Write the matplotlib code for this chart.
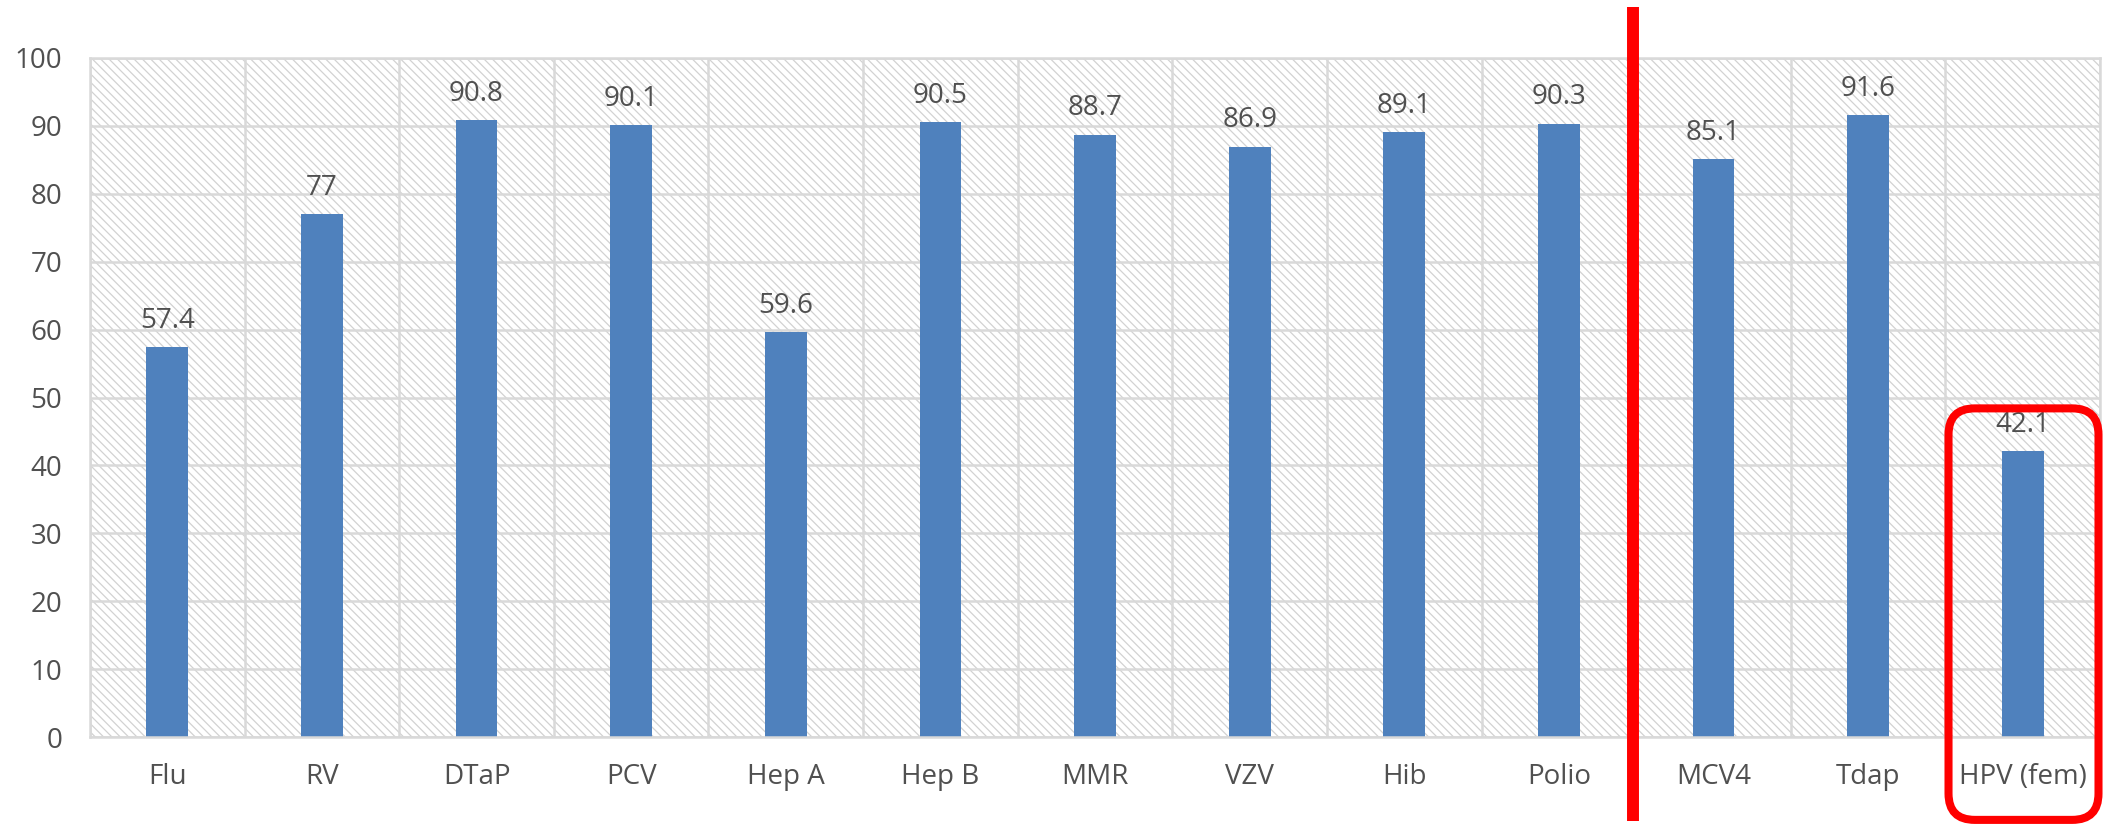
import matplotlib
matplotlib.use('Agg')
import matplotlib.pyplot as plt
from matplotlib.patches import FancyBboxPatch

vaccines = ['Flu', 'RV', 'DTaP', 'PCV', 'Hep A', 'Hep B', 'MMR', 'VZV',
            'Hib', 'Polio', 'MCV4', 'Tdap', 'HPV (fem)']
coverage = [57.4, 77, 90.8, 90.1, 59.6, 90.5, 88.7, 86.9, 89.1, 90.3, 85.1, 91.6, 42.1]
y_ticks = list(range(0, 101, 10))

text_color = '#505050'
grid_color = '#d9d9d9'
bar_color = '#4f81bd'

plt.rcParams['font.family'] = ['Open Sans', 'DejaVu Sans']
plt.rcParams['hatch.color'] = '#d2d2d2'
plt.rcParams['hatch.linewidth'] = 0.9

fig = plt.figure(figsize=(21.07, 8.26), dpi=100)
ax = fig.add_axes([0.0427, 0.1077, 0.954, 0.8221])

n = len(vaccines)
x = list(range(n))
ax.set_xlim(-0.5, n - 0.5)
ax.set_ylim(0, 100)

# hatched background of the plot area
ax.patch.set_facecolor('white')
ax.fill_between([-0.5, n - 0.5], 0, 100, facecolor='white',
                edgecolor='#d2d2d2', hatch='\\' * 4, linewidth=0, zorder=0)

# grid: horizontal at ticks, vertical at category boundaries
for yv in y_ticks:
    ax.axhline(yv, color=grid_color, lw=1.8, zorder=1)
for i in range(n + 1):
    ax.axvline(i - 0.5, color=grid_color, lw=1.8, zorder=1)

bars = ax.bar(x, coverage, width=0.27, color=bar_color, zorder=2)
ax.bar_label(bars, labels=[f'{v:g}' for v in coverage], padding=9,
             fontsize=20, color=text_color)

ax.set_xticks(x)
ax.set_xticklabels(vaccines)
ax.set_yticks(y_ticks)
ax.tick_params(axis='x', length=0, pad=19, labelsize=20, labelcolor=text_color)
ax.tick_params(axis='y', length=0, pad=20, labelsize=20, labelcolor=text_color)
for s in ax.spines.values():
    s.set_color(grid_color)
    s.set_linewidth(1.8)

# red separator line between childhood and adolescent vaccines
ax.plot([9.48, 9.48], [-12.3, 107.5], color='#ff0000', lw=8.6,
        clip_on=False, zorder=5, solid_capstyle='butt')

# rounded box around HPV
box = FancyBboxPatch((11.52, -12.2), 0.97, 60.6,
                     boxstyle='round,pad=0,rounding_size=0.17',
                     mutation_aspect=22.8, fill=False, edgecolor='#ff0000',
                     lw=5.8, clip_on=False, zorder=5)
ax.add_patch(box)

fig.savefig('out.png', dpi=100)
